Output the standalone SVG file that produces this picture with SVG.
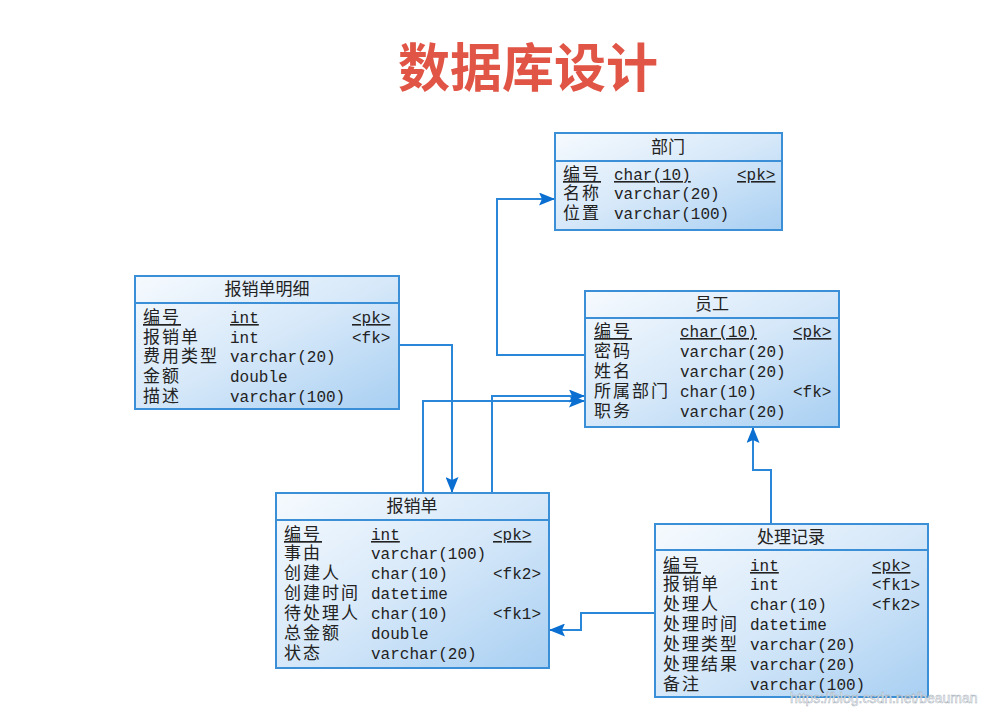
<svg xmlns="http://www.w3.org/2000/svg" width="996" height="708" viewBox="0 0 996 708">
<defs>
<linearGradient id="g" x1="0" y1="0" x2="1" y2="1">
<stop offset="0" stop-color="#f6fafe"/>
<stop offset="0.5" stop-color="#d6e8f9"/>
<stop offset="1" stop-color="#a8cff2"/>
</linearGradient>
<marker id="arr" viewBox="0 0 16 13" refX="16" refY="6.5" markerWidth="16" markerHeight="13" orient="auto" markerUnits="userSpaceOnUse">
<path d="M0,0 L16,6.5 L0,13 L3,6.5 z" fill="#0a6fd0"/>
</marker>
</defs>
<style>
.box{fill:url(#g);stroke:#3a8fd6;stroke-width:2}
.hl{stroke:#3a8fd6;stroke-width:2}
.h{font-family:"Noto Sans CJK SC",sans-serif;font-size:17px;fill:#222;text-anchor:middle}
.n{font-family:"Noto Sans CJK SC",sans-serif;font-size:17px;fill:#222;letter-spacing:2px}
.t{font-family:"Liberation Mono",monospace;font-size:16px;fill:#222}
.u{text-decoration:underline}
.c{fill:none;stroke:#2a86d8;stroke-width:2;marker-end:url(#arr)}
.title{font-family:"Noto Sans CJK SC",sans-serif;font-size:52px;font-weight:bold;fill:#e05545;text-anchor:middle}
</style>
<rect width="996" height="708" fill="#ffffff"/>
<text class="title" x="528" y="87">数据库设计</text>

<g id="connectors">
<path class="c" d="M585,355 H497 V199 H555"/>
<path class="c" d="M399,345 H452 V493"/>
<path class="c" d="M423,493 V401 H585"/>
<path class="c" d="M492,493 V396 H585"/>
<path class="c" d="M655,613 H581 V630 H549"/>
<path class="c" d="M771,524 V470 H753 V427"/>
</g>

<g id="bumen">
<rect class="box" x="555" y="133" width="227" height="97"/>
<line class="hl" x1="555" y1="161" x2="782" y2="161"/>
<text class="h" x="668" y="153">部门</text>
<text class="n u" x="563" y="180">编号</text><text class="t u" x="614" y="180">char(10)</text><text class="t u" x="737" y="180">&lt;pk&gt;</text>
<text class="n" x="563" y="199">名称</text><text class="t" x="614" y="199">varchar(20)</text>
<text class="n" x="563" y="219">位置</text><text class="t" x="614" y="219">varchar(100)</text>
</g>

<g id="mingxi">
<rect class="box" x="135" y="276" width="264" height="133"/>
<line class="hl" x1="135" y1="303" x2="399" y2="303"/>
<text class="h" x="267" y="295">报销单明细</text>
<text class="n u" x="143" y="323">编号</text><text class="t u" x="230" y="323">int</text><text class="t u" x="352" y="323">&lt;pk&gt;</text>
<text class="n" x="143" y="343">报销单</text><text class="t" x="230" y="343">int</text><text class="t" x="352" y="343">&lt;fk&gt;</text>
<text class="n" x="143" y="362">费用类型</text><text class="t" x="230" y="362">varchar(20)</text>
<text class="n" x="143" y="382">金额</text><text class="t" x="230" y="382">double</text>
<text class="n" x="143" y="402">描述</text><text class="t" x="230" y="402">varchar(100)</text>
</g>

<g id="yuangong">
<rect class="box" x="585" y="291" width="254" height="136"/>
<line class="hl" x1="585" y1="318" x2="839" y2="318"/>
<text class="h" x="712" y="310">员工</text>
<text class="n u" x="594" y="337">编号</text><text class="t u" x="680" y="337">char(10)</text><text class="t u" x="793" y="337">&lt;pk&gt;</text>
<text class="n" x="594" y="357">密码</text><text class="t" x="680" y="357">varchar(20)</text>
<text class="n" x="594" y="377">姓名</text><text class="t" x="680" y="377">varchar(20)</text>
<text class="n" x="594" y="397">所属部门</text><text class="t" x="680" y="397">char(10)</text><text class="t" x="793" y="397">&lt;fk&gt;</text>
<text class="n" x="594" y="417">职务</text><text class="t" x="680" y="417">varchar(20)</text>
</g>

<g id="baoxiaodan">
<rect class="box" x="276" y="493" width="273" height="175"/>
<line class="hl" x1="276" y1="520" x2="549" y2="520"/>
<text class="h" x="412" y="512">报销单</text>
<text class="n u" x="284" y="540">编号</text><text class="t u" x="371" y="540">int</text><text class="t u" x="493" y="540">&lt;pk&gt;</text>
<text class="n" x="284" y="559">事由</text><text class="t" x="371" y="559">varchar(100)</text>
<text class="n" x="284" y="579">创建人</text><text class="t" x="371" y="579">char(10)</text><text class="t" x="493" y="579">&lt;fk2&gt;</text>
<text class="n" x="284" y="599">创建时间</text><text class="t" x="371" y="599">datetime</text>
<text class="n" x="284" y="619">待处理人</text><text class="t" x="371" y="619">char(10)</text><text class="t" x="493" y="619">&lt;fk1&gt;</text>
<text class="n" x="284" y="639">总金额</text><text class="t" x="371" y="639">double</text>
<text class="n" x="284" y="659">状态</text><text class="t" x="371" y="659">varchar(20)</text>
</g>

<g id="chulijilu">
<rect class="box" x="655" y="524" width="273" height="173"/>
<line class="hl" x1="655" y1="550" x2="928" y2="550"/>
<text class="h" x="791" y="543">处理记录</text>
<text class="n u" x="663" y="571">编号</text><text class="t u" x="750" y="571">int</text><text class="t u" x="872" y="571">&lt;pk&gt;</text>
<text class="n" x="663" y="590">报销单</text><text class="t" x="750" y="590">int</text><text class="t" x="872" y="590">&lt;fk1&gt;</text>
<text class="n" x="663" y="610">处理人</text><text class="t" x="750" y="610">char(10)</text><text class="t" x="872" y="610">&lt;fk2&gt;</text>
<text class="n" x="663" y="630">处理时间</text><text class="t" x="750" y="630">datetime</text>
<text class="n" x="663" y="650">处理类型</text><text class="t" x="750" y="650">varchar(20)</text>
<text class="n" x="663" y="670">处理结果</text><text class="t" x="750" y="670">varchar(20)</text>
<text class="n" x="663" y="690">备注</text><text class="t" x="750" y="690">varchar(100)</text>
</g>

<text x="790" y="703" font-family="Liberation Sans, sans-serif" font-size="14" fill="#ffffff" stroke="#9aa6b2" stroke-width="0.5" opacity="0.9">https://blog.csdn.net/beauman</text>
</svg>
